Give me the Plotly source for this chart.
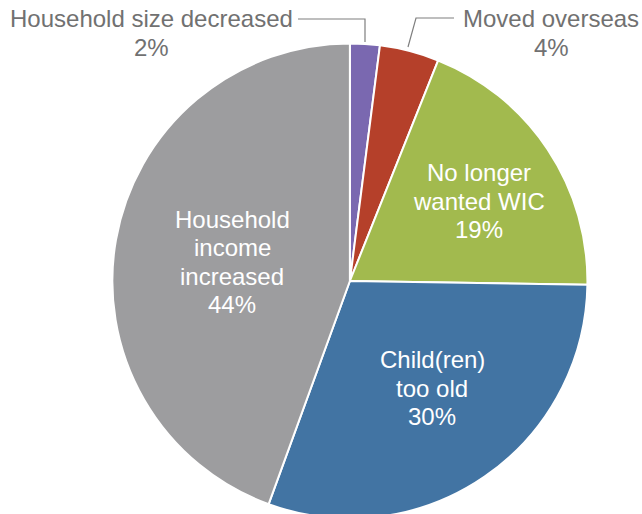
import plotly.graph_objects as go

# Reasons for leaving WIC (share of respondents, %)
reasons = ["Household size decreased", "Moved overseas", "No longer wanted WIC",
           "Child(ren) too old", "Household income increased"]
shares = [2, 4, 19, 30, 44]
colors = ["#7a68b0", "#b5402a", "#a2ba4e", "#4274a3", "#9d9d9f"]

# Wrapped label lines for each slice
wrapped = [["Household size decreased"], ["Moved overseas"], ["No longer", "wanted WIC"],
           ["Child(ren)", "too old"], ["Household", "income", "increased"]]

W, H = 642, 562
FONT = "Liberation Sans, Arial, Helvetica, sans-serif"

fig = go.Figure(go.Pie(
    labels=reasons,
    values=shares,
    sort=False,
    direction="clockwise",
    rotation=0,
    textinfo="none",
    hoverinfo="label+percent",
    marker=dict(colors=colors, line=dict(color="white", width=2)),
    domain=dict(x=[0.175, 0.915], y=[0.0765, 0.9235]),
    showlegend=False,
))


def px(x, y):
    return x / W, 1 - y / H


# label block centres (pixels), line gap, and whether text sits inside the slice
label_pos = [(151, 33, 30, False), (551, 33, 30, False), (479, 201, 28, True),
             (432, 388, 28.5, True), (232, 262, 28.3, True)]

annotations = []
for lines, val, (lx, ly, gap, inside) in zip(wrapped, shares, label_pos):
    rows = lines + [f"{val}%"]
    top = ly - gap * (len(rows) - 1) / 2
    for i, row in enumerate(rows):
        ax, ay = px(lx, top + i * gap)
        annotations.append(dict(
            x=ax, y=ay, xref="paper", yref="paper",
            xanchor="center", yanchor="middle", showarrow=False,
            text=row,
            font=dict(family=FONT, size=24, color="white" if inside else "#717171"),
        ))

# leader lines for the two small slices
def path(points):
    coords = [px(x, y) for x, y in points]
    return "M " + " L ".join(f"{a},{b}" for a, b in coords)

shapes = [
    dict(type="path", xref="paper", yref="paper",
         path=path([(298, 19), (365, 19), (365, 42)]),
         line=dict(color="#7f7f7f", width=1.2)),
    dict(type="path", xref="paper", yref="paper",
         path=path([(454, 18), (416, 18), (408, 47)]),
         line=dict(color="#7f7f7f", width=1.2)),
]

fig.update_layout(
    width=W, height=H,
    margin=dict(l=0, r=0, t=0, b=0),
    paper_bgcolor="white",
    plot_bgcolor="white",
    annotations=annotations,
    shapes=shapes,
)

fig.write_html(
    "out.html",
    post_script="document.body.style.overflow='hidden';"
                "document.documentElement.style.overflow='hidden';",
)
